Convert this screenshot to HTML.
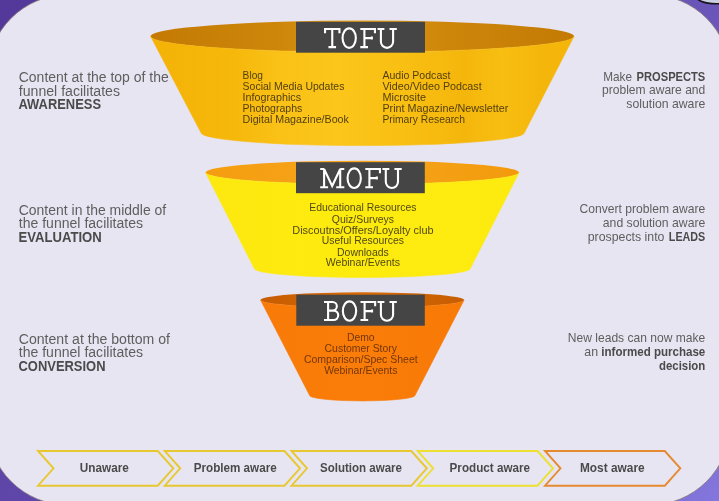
<!DOCTYPE html>
<html lang="en">
<head>
<meta charset="utf-8">
<title>Content Marketing Funnel</title>
<style>
html,body{margin:0;padding:0;background:#e7e5f2;}
body{width:719px;height:501px;overflow:hidden;font-family:"Liberation Sans",sans-serif;}
svg{display:block;will-change:transform;}
text{white-space:pre;}
</style>
</head>
<body>
<svg width="719" height="501" viewBox="0 0 719 501">
<defs>
<linearGradient id="bg" gradientUnits="userSpaceOnUse" x1="0" y1="0" x2="982" y2="690">
<stop offset="0" stop-color="#53389a"/><stop offset="0.49" stop-color="#6a55b9"/><stop offset="0.73" stop-color="#8376dc"/><stop offset="1" stop-color="#8376dc"/>
</linearGradient>
<linearGradient id="tb" x1="0" y1="0" x2="1" y2="0">
<stop offset="0" stop-color="#f4b206"/><stop offset="0.2" stop-color="#f6b80b"/><stop offset="0.3" stop-color="#fac116"/><stop offset="0.44" stop-color="#fcc61a"/><stop offset="0.6" stop-color="#f9bf13"/><stop offset="0.74" stop-color="#f5b60c"/><stop offset="0.83" stop-color="#f8be12"/><stop offset="0.92" stop-color="#f5b60b"/><stop offset="1" stop-color="#f5b408"/>
</linearGradient>
<linearGradient id="ti" x1="0" y1="0" x2="1" y2="0">
<stop offset="0" stop-color="#c47a04"/><stop offset="0.3" stop-color="#cd860a"/><stop offset="0.5" stop-color="#e09c12"/><stop offset="0.7" stop-color="#cd860a"/><stop offset="1" stop-color="#c47a04"/>
</linearGradient>
<linearGradient id="mb" x1="0" y1="0" x2="1" y2="0">
<stop offset="0" stop-color="#fde80f"/><stop offset="0.4" stop-color="#feeb0e"/><stop offset="1" stop-color="#fdea0f"/>
</linearGradient>
<linearGradient id="mi" x1="0" y1="0" x2="1" y2="0">
<stop offset="0" stop-color="#f59d10"/><stop offset="0.5" stop-color="#f6a51c"/><stop offset="1" stop-color="#f39a0c"/>
</linearGradient>
<linearGradient id="bb" x1="0" y1="0" x2="1" y2="0">
<stop offset="0" stop-color="#f87a08"/><stop offset="0.5" stop-color="#fa7d09"/><stop offset="1" stop-color="#f87906"/>
</linearGradient>
<linearGradient id="bi" x1="0" y1="0" x2="1" y2="0">
<stop offset="0" stop-color="#c65d02"/><stop offset="0.5" stop-color="#d96a05"/><stop offset="1" stop-color="#c65d02"/>
</linearGradient>
</defs>
<rect x="0" y="0" width="719" height="501" fill="url(#bg)"/>
<ellipse cx="716" cy="-5" rx="21" ry="8.7" fill="#c9d0e0" stroke="#15121c" stroke-width="1.6"/>
<rect x="-12.3" y="-5.3" width="742.3" height="510.3" rx="80" ry="80" fill="#e7e5f2" stroke="#8a7a7e" stroke-opacity="0.85" stroke-width="1"/>
<!-- TOFU -->
<ellipse cx="362.3" cy="36.3" rx="211.7" ry="15.8" fill="url(#ti)"/>
<path d="M150.60000000000002 36.3 A211.7 15.8 0 0 0 574.0 36.3 L524.5 132.6 A161.8 13.0 0 0 1 200.89999999999998 132.6 Z" fill="url(#tb)" stroke="url(#tb)" stroke-width="0.6" stroke-linejoin="round"/>
<rect x="296" y="21.8" width="129" height="30.9" fill="#454545"/>
<!-- MOFU -->
<ellipse cx="362.3" cy="172.5" rx="156.8" ry="11.8" fill="url(#mi)"/>
<path d="M205.5 172.5 A156.8 11.8 0 0 0 519.1 172.5 L470.3 268.5 A108.0 9.0 0 0 1 254.3 268.5 Z" fill="url(#mb)" stroke="url(#mb)" stroke-width="0.6" stroke-linejoin="round"/>
<rect x="296" y="162.2" width="128.8" height="31" fill="#454545"/>
<!-- BOFU -->
<ellipse cx="362.3" cy="300.0" rx="101.8" ry="7.7" fill="url(#bi)"/>
<path d="M260.5 300.0 A101.8 7.7 0 0 0 464.1 300.0 L415.0 395.4 A52.7 5.5 0 0 1 309.6 395.4 Z" fill="url(#bb)" stroke="url(#bb)" stroke-width="0.6" stroke-linejoin="round"/>
<rect x="296.3" y="294.7" width="128.5" height="31.0" fill="#454545"/>
<path d="M324.0 29.05H340.5M325.05 28.0V33.2M339.45 28.0V33.2M332.25 29.05V47.150000000000006M328.45 47.150000000000006H336.05M342.55 38.1A6.65 9.749999999999998 0 1 0 355.84999999999997 38.1A6.65 9.749999999999998 0 1 0 342.55 38.1ZM360.3 29.05H376.0M374.95 28.0V33.2M364.40000000000003 29.05V47.150000000000006M364.40000000000003 38.1H372.90000000000003M371.85 36.6V39.6M360.3 47.150000000000006H368.0M377.5 29.05H384.4M389.5 29.05H396.8M380.9 29.05V41.749999999999986A6.100000000000023 6.100000000000023 0 0 0 393.1 41.749999999999986V29.05" fill="none" stroke="#fff" stroke-width="2.1" stroke-linecap="butt" stroke-linejoin="miter"/>
<path d="M320.2 169.05H324.09999999999997M340.2 169.05H344.3M320.2 187.25H328.09999999999997M336.2 187.25H344.3M324.09999999999997 187.25V169.05L332.15 186.0L340.2 169.05V187.25M347.55 178.15A6.65 9.799999999999999 0 1 0 360.84999999999997 178.15A6.65 9.799999999999999 0 1 0 347.55 178.15ZM365.3 169.05H381.0M379.95 168.0V173.2M369.40000000000003 169.05V187.25M369.40000000000003 178.1H377.90000000000003M376.85 176.6V179.6M365.3 187.25H373.0M382.4 169.05H389.29999999999995M394.4 169.05H401.7M385.79999999999995 169.05V181.84999999999997A6.100000000000023 6.100000000000023 0 0 0 398.0 181.84999999999997V169.05" fill="none" stroke="#fff" stroke-width="2.1" stroke-linecap="butt" stroke-linejoin="miter"/>
<path d="M324.0 302.05H332.57499999999993A4.275000000000006 4.275000000000006 0 0 1 332.57499999999993 310.6H328.1M332.07499999999993 310.6H333.525A4.724999999999994 4.724999999999994 0 0 1 333.525 320.05H324.0M328.1 302.05V320.05M342.85 311.05A6.65 9.7 0 1 0 356.15 311.05A6.65 9.7 0 1 0 342.85 311.05ZM360.5 302.05H376.2M375.15 301.0V306.2M364.6 302.05V320.05M364.6 311.1H373.1M372.05 309.6V312.6M360.5 320.05H368.2M377.5 302.05H384.4M389.5 302.05H396.8M380.9 302.05V314.65A6.100000000000023 6.100000000000023 0 0 0 393.1 314.65V302.05" fill="none" stroke="#fff" stroke-width="2.1" stroke-linecap="butt" stroke-linejoin="miter"/>
<text x="242.6" y="78.7" font-family="'Liberation Sans', sans-serif" font-size="10.4" font-weight="400" fill="#54400e" text-anchor="start" textLength="20.4" lengthAdjust="spacingAndGlyphs">Blog</text>
<text x="242.6" y="89.8" font-family="'Liberation Sans', sans-serif" font-size="10.4" font-weight="400" fill="#54400e" text-anchor="start" textLength="101.8" lengthAdjust="spacingAndGlyphs">Social Media Updates</text>
<text x="242.6" y="100.8" font-family="'Liberation Sans', sans-serif" font-size="10.4" font-weight="400" fill="#54400e" text-anchor="start" textLength="58.4" lengthAdjust="spacingAndGlyphs">Infographics</text>
<text x="242.6" y="111.8" font-family="'Liberation Sans', sans-serif" font-size="10.4" font-weight="400" fill="#54400e" text-anchor="start" textLength="59.7" lengthAdjust="spacingAndGlyphs">Photographs</text>
<text x="242.6" y="122.8" font-family="'Liberation Sans', sans-serif" font-size="10.4" font-weight="400" fill="#54400e" text-anchor="start" textLength="106.3" lengthAdjust="spacingAndGlyphs">Digital Magazine/Book</text>
<text x="382.4" y="78.7" font-family="'Liberation Sans', sans-serif" font-size="10.4" font-weight="400" fill="#54400e" text-anchor="start" textLength="68.1" lengthAdjust="spacingAndGlyphs">Audio Podcast</text>
<text x="382.4" y="89.8" font-family="'Liberation Sans', sans-serif" font-size="10.4" font-weight="400" fill="#54400e" text-anchor="start" textLength="99.3" lengthAdjust="spacingAndGlyphs">Video/Video Podcast</text>
<text x="382.4" y="100.8" font-family="'Liberation Sans', sans-serif" font-size="10.4" font-weight="400" fill="#54400e" text-anchor="start" textLength="43.6" lengthAdjust="spacingAndGlyphs">Microsite</text>
<text x="382.4" y="111.8" font-family="'Liberation Sans', sans-serif" font-size="10.4" font-weight="400" fill="#54400e" text-anchor="start" textLength="126" lengthAdjust="spacingAndGlyphs">Print Magazine/Newsletter</text>
<text x="382.4" y="122.8" font-family="'Liberation Sans', sans-serif" font-size="10.4" font-weight="400" fill="#54400e" text-anchor="start" textLength="82.6" lengthAdjust="spacingAndGlyphs">Primary Research</text>
<text x="362.9" y="211.3" font-family="'Liberation Sans', sans-serif" font-size="10.4" font-weight="400" fill="#514a14" text-anchor="middle" textLength="107.3" lengthAdjust="spacingAndGlyphs">Educational Resources</text>
<text x="362.9" y="222.6" font-family="'Liberation Sans', sans-serif" font-size="10.4" font-weight="400" fill="#514a14" text-anchor="middle" textLength="62.3" lengthAdjust="spacingAndGlyphs">Quiz/Surveys</text>
<text x="362.9" y="233.6" font-family="'Liberation Sans', sans-serif" font-size="10.4" font-weight="400" fill="#514a14" text-anchor="middle" textLength="141.3" lengthAdjust="spacingAndGlyphs">Discoutns/Offers/Loyalty club</text>
<text x="362.9" y="244.4" font-family="'Liberation Sans', sans-serif" font-size="10.4" font-weight="400" fill="#514a14" text-anchor="middle" textLength="82.4" lengthAdjust="spacingAndGlyphs">Useful Resources</text>
<text x="362.9" y="255.6" font-family="'Liberation Sans', sans-serif" font-size="10.4" font-weight="400" fill="#514a14" text-anchor="middle" textLength="51.7" lengthAdjust="spacingAndGlyphs">Downloads</text>
<text x="362.9" y="266.4" font-family="'Liberation Sans', sans-serif" font-size="10.4" font-weight="400" fill="#514a14" text-anchor="middle" textLength="74.3" lengthAdjust="spacingAndGlyphs">Webinar/Events</text>
<text x="360.8" y="340.7" font-family="'Liberation Sans', sans-serif" font-size="10.4" font-weight="400" fill="#74360a" text-anchor="middle" textLength="27.6" lengthAdjust="spacingAndGlyphs">Demo</text>
<text x="360.8" y="351.8" font-family="'Liberation Sans', sans-serif" font-size="10.4" font-weight="400" fill="#74360a" text-anchor="middle" textLength="72.4" lengthAdjust="spacingAndGlyphs">Customer Story</text>
<text x="360.8" y="362.8" font-family="'Liberation Sans', sans-serif" font-size="10.4" font-weight="400" fill="#74360a" text-anchor="middle" textLength="113.8" lengthAdjust="spacingAndGlyphs">Comparison/Spec Sheet</text>
<text x="360.8" y="373.6" font-family="'Liberation Sans', sans-serif" font-size="10.4" font-weight="400" fill="#74360a" text-anchor="middle" textLength="73.3" lengthAdjust="spacingAndGlyphs">Webinar/Events</text>
<text x="18.75" y="82.2" font-family="'Liberation Sans', sans-serif" font-size="14" font-weight="400" fill="#5e5e5e" text-anchor="start" textLength="150" lengthAdjust="spacingAndGlyphs">Content at the top of the</text>
<text x="18.75" y="96.1" font-family="'Liberation Sans', sans-serif" font-size="14" font-weight="400" fill="#5e5e5e" text-anchor="start" textLength="101.25" lengthAdjust="spacingAndGlyphs">funnel facilitates</text>
<text x="18.5" y="109.0" font-family="'Liberation Sans', sans-serif" font-size="14" font-weight="700" fill="#4a4a4a" text-anchor="start" textLength="82.5" lengthAdjust="spacingAndGlyphs">AWARENESS</text>
<text x="18.75" y="214.6" font-family="'Liberation Sans', sans-serif" font-size="14" font-weight="400" fill="#5e5e5e" text-anchor="start" textLength="147.5" lengthAdjust="spacingAndGlyphs">Content in the middle of</text>
<text x="18.75" y="227.6" font-family="'Liberation Sans', sans-serif" font-size="14" font-weight="400" fill="#5e5e5e" text-anchor="start" textLength="124.25" lengthAdjust="spacingAndGlyphs">the funnel facilitates</text>
<text x="18.5" y="242.1" font-family="'Liberation Sans', sans-serif" font-size="14" font-weight="700" fill="#4a4a4a" text-anchor="start" textLength="83.25" lengthAdjust="spacingAndGlyphs">EVALUATION</text>
<text x="18.75" y="343.7" font-family="'Liberation Sans', sans-serif" font-size="14" font-weight="400" fill="#5e5e5e" text-anchor="start" textLength="151.25" lengthAdjust="spacingAndGlyphs">Content at the bottom of</text>
<text x="18.75" y="357.0" font-family="'Liberation Sans', sans-serif" font-size="14" font-weight="400" fill="#5e5e5e" text-anchor="start" textLength="124.25" lengthAdjust="spacingAndGlyphs">the funnel facilitates</text>
<text x="18.5" y="371.2" font-family="'Liberation Sans', sans-serif" font-size="14" font-weight="700" fill="#4a4a4a" text-anchor="start" textLength="87" lengthAdjust="spacingAndGlyphs">CONVERSION</text>
<text x="603.2" y="80.5" font-family="'Liberation Sans', sans-serif" font-size="13" font-weight="400" fill="#5e5e5e" text-anchor="start" textLength="28.75" lengthAdjust="spacingAndGlyphs">Make</text>
<text x="705.3" y="80.5" font-family="'Liberation Sans', sans-serif" font-size="13" font-weight="700" fill="#4a4a4a" text-anchor="end" textLength="68.75" lengthAdjust="spacingAndGlyphs">PROSPECTS</text>
<text x="705.3" y="94.4" font-family="'Liberation Sans', sans-serif" font-size="13" font-weight="400" fill="#5e5e5e" text-anchor="end" textLength="103.25" lengthAdjust="spacingAndGlyphs">problem aware and</text>
<text x="705.3" y="108.4" font-family="'Liberation Sans', sans-serif" font-size="13" font-weight="400" fill="#5e5e5e" text-anchor="end" textLength="79" lengthAdjust="spacingAndGlyphs">solution aware</text>
<text x="705.3" y="213.25" font-family="'Liberation Sans', sans-serif" font-size="13" font-weight="400" fill="#5e5e5e" text-anchor="end" textLength="125.75" lengthAdjust="spacingAndGlyphs">Convert problem aware</text>
<text x="705.3" y="226.75" font-family="'Liberation Sans', sans-serif" font-size="13" font-weight="400" fill="#5e5e5e" text-anchor="end" textLength="102.5" lengthAdjust="spacingAndGlyphs">and solution aware</text>
<text x="587.7" y="240.75" font-family="'Liberation Sans', sans-serif" font-size="13" font-weight="400" fill="#5e5e5e" text-anchor="start" textLength="76.75" lengthAdjust="spacingAndGlyphs">prospects into</text>
<text x="705.3" y="240.75" font-family="'Liberation Sans', sans-serif" font-size="13" font-weight="700" fill="#4a4a4a" text-anchor="end" textLength="36.5" lengthAdjust="spacingAndGlyphs">LEADS</text>
<text x="705.3" y="342.0" font-family="'Liberation Sans', sans-serif" font-size="13" font-weight="400" fill="#5e5e5e" text-anchor="end" textLength="137.5" lengthAdjust="spacingAndGlyphs">New leads can now make</text>
<text x="584.3" y="356.3" font-family="'Liberation Sans', sans-serif" font-size="13" font-weight="400" fill="#5e5e5e" text-anchor="start" textLength="13.75" lengthAdjust="spacingAndGlyphs">an</text>
<text x="705.3" y="356.3" font-family="'Liberation Sans', sans-serif" font-size="13" font-weight="700" fill="#4a4a4a" text-anchor="end" textLength="104" lengthAdjust="spacingAndGlyphs">informed purchase</text>
<text x="705.3" y="370.4" font-family="'Liberation Sans', sans-serif" font-size="13" font-weight="700" fill="#4a4a4a" text-anchor="end" textLength="46.25" lengthAdjust="spacingAndGlyphs">decision</text>
<polygon points="38.0,451.0 157.8,451.0 173.3,468.35 157.8,485.7 38.0,485.7 53.5,468.35" fill="none" stroke="#e8c830" stroke-width="1.9" stroke-linejoin="miter"/>
<text x="104.3" y="472.4" font-family="'Liberation Sans', sans-serif" font-size="12" font-weight="700" fill="#4a4a4a" text-anchor="middle" textLength="49" lengthAdjust="spacingAndGlyphs">Unaware</text>
<polygon points="164.7,451.0 284.5,451.0 300.0,468.35 284.5,485.7 164.7,485.7 180.2,468.35" fill="none" stroke="#e8c830" stroke-width="1.9" stroke-linejoin="miter"/>
<text x="235.2" y="472.4" font-family="'Liberation Sans', sans-serif" font-size="12" font-weight="700" fill="#4a4a4a" text-anchor="middle" textLength="83" lengthAdjust="spacingAndGlyphs">Problem aware</text>
<polygon points="291.5,451.0 411.3,451.0 426.8,468.35 411.3,485.7 291.5,485.7 307.0,468.35" fill="none" stroke="#e8c830" stroke-width="1.9" stroke-linejoin="miter"/>
<text x="361" y="472.4" font-family="'Liberation Sans', sans-serif" font-size="12" font-weight="700" fill="#4a4a4a" text-anchor="middle" textLength="82" lengthAdjust="spacingAndGlyphs">Solution aware</text>
<polygon points="417.7,451.0 537.5,451.0 553.0,468.35 537.5,485.7 417.7,485.7 433.2,468.35" fill="none" stroke="#ece032" stroke-width="1.9" stroke-linejoin="miter"/>
<text x="489.8" y="472.4" font-family="'Liberation Sans', sans-serif" font-size="12" font-weight="700" fill="#4a4a4a" text-anchor="middle" textLength="80.4" lengthAdjust="spacingAndGlyphs">Product aware</text>
<polygon points="545.0,451.0 664.8,451.0 680.3,468.35 664.8,485.7 545.0,485.7 560.5,468.35" fill="none" stroke="#e68a30" stroke-width="1.9" stroke-linejoin="miter"/>
<text x="612.3" y="472.4" font-family="'Liberation Sans', sans-serif" font-size="12" font-weight="700" fill="#4a4a4a" text-anchor="middle" textLength="64.7" lengthAdjust="spacingAndGlyphs">Most aware</text>
</svg>
</body>
</html>
